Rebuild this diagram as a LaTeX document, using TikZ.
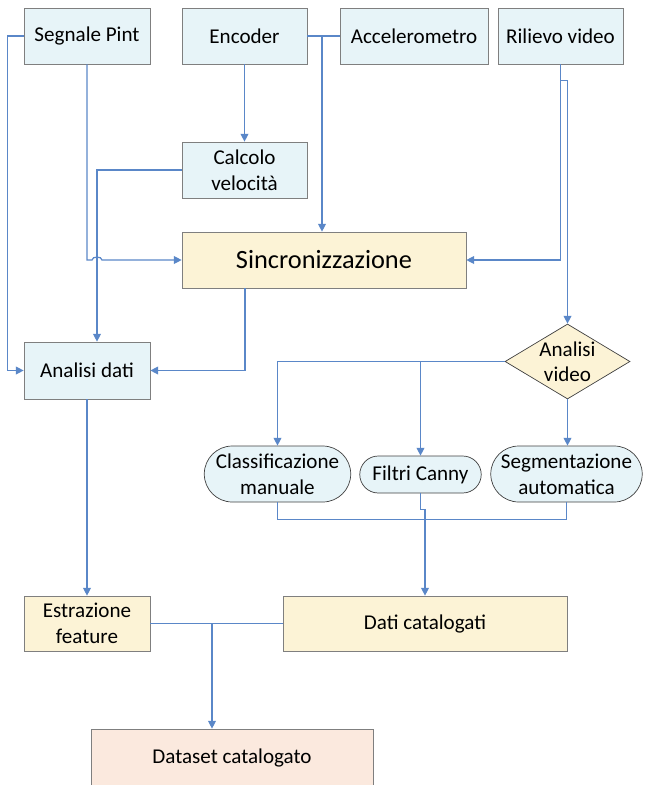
\documentclass[tikz,border=0pt]{standalone}
\usepackage{fontspec}
\setmainfont{Carlito}
\usetikzlibrary{arrows.meta,shapes.geometric,shapes.misc}
\definecolor{boxblue}{HTML}{E7F4F8}
\definecolor{boxyellow}{HTML}{FCF3D6}
\definecolor{boxpink}{HTML}{FBE9DE}
\definecolor{edgegray}{HTML}{7F7F7F}
\definecolor{flowblue}{HTML}{5A87C8}
\begin{document}
\begin{tikzpicture}[x=0.02cm,y=-0.02cm,
 block/.style={draw=edgegray,fill=boxblue,align=center,font=\fontsize{12}{15}\selectfont,inner sep=1pt,minimum width=2.5cm,minimum height=1.12cm},
 yblock/.style={block,fill=boxyellow},
 term/.style={block,rounded rectangle,draw=black!75},
 decision/.style={draw=black!75,fill=boxyellow,diamond,aspect=1.67,align=center,font=\fontsize{12}{14}\selectfont,inner sep=-2pt,minimum width=2.5cm,minimum height=1.5cm},
 link/.style={draw=flowblue,line width=0.7pt},
 flow/.style={link,->},>={Triangle[length=4.5pt,width=4.5pt]}]
\useasboundingbox (0,0) rectangle (645,785);
% sorgenti
\node[block,minimum width=2.52cm] (pint) at (87,36) {Segnale Pint};
\node[block] (encoder) at (244.5,36) {Encoder};
\node[block,minimum width=2.96cm] (accel) at (414,36) {Accelerometro};
\node[block] (video) at (560.5,36) {Rilievo video};
\node[block] (calcvel) at (244.5,170) {Calcolo\\velocità};
\node[yblock,minimum width=5.68cm,font=\fontsize{15}{18}\selectfont] (sync) at (324,260) {Sincronizzazione};
\node[block,minimum width=2.52cm,minimum height=1.14cm] (adati) at (87,370.5) {Analisi dati};
% ramo video
\node[decision] (avideo) at (567.5,361.5) {Analisi\\video};
\node[term,minimum width=3cm] (classman) at (277.5,474) {Classificazione\\manuale};
\node[term,minimum height=0.74cm] (canny) at (420.5,474.5) {Filtri Canny};
\node[term,minimum width=3.1cm] (segauto) at (566.5,474) {Segmentazione\\automatica};
% uscite
\node[yblock,minimum width=2.52cm,minimum height=1.1cm] (estraz) at (87,623.5) {Estrazione\\feature};
\node[yblock,minimum width=5.68cm,minimum height=1.1cm] (daticat) at (425,623.5) {Dati catalogati};
\node[block,fill=boxpink,minimum width=5.64cm,minimum height=1.16cm] (dataset) at (232,758) {Dataset catalogato};
\coordinate (jenc) at (322,36);
\coordinate (jfeat) at (212,623.5);
\draw[flow] (pint.west) -- ++(-16,0) |- (adati.west);
\draw[flow] (pint.south) -- (pint.south |- sync.west) -- ++(5,0) to[out=90,in=90] ++(10,0) -- (sync.west);
\draw[flow] (encoder.south) -- (calcvel.north);
\draw[link] (encoder.east) -- (accel.west);
\draw[flow] (jenc) -- (jenc |- sync.north);
\draw[flow] (calcvel.west) -| ([xshift=0.2cm]adati.north);
\draw[flow] ([xshift=-1.58cm]sync.south) |- (adati.east);
\draw[flow] (video.south) |- (sync.east);
\draw[flow] ([yshift=-0.32cm]video.south) -| (avideo.north);
\draw[flow] (avideo.west) -| (classman.north);
\draw[flow] (avideo.west -| canny.north) -- (canny.north);
\draw[flow] (avideo.south) -- (avideo.south |- segauto.north);
\draw[link] (classman.south) -- ++(0,17) -| (segauto.south);
\draw[flow] (canny.south) -- ++(0,16) -| (daticat.north);
\draw[flow] (adati.south) -- (estraz.north);
\draw[link] (estraz.east) -- (daticat.west);
\draw[flow] (jfeat) -- (jfeat |- dataset.north);
\end{tikzpicture}
\end{document}
